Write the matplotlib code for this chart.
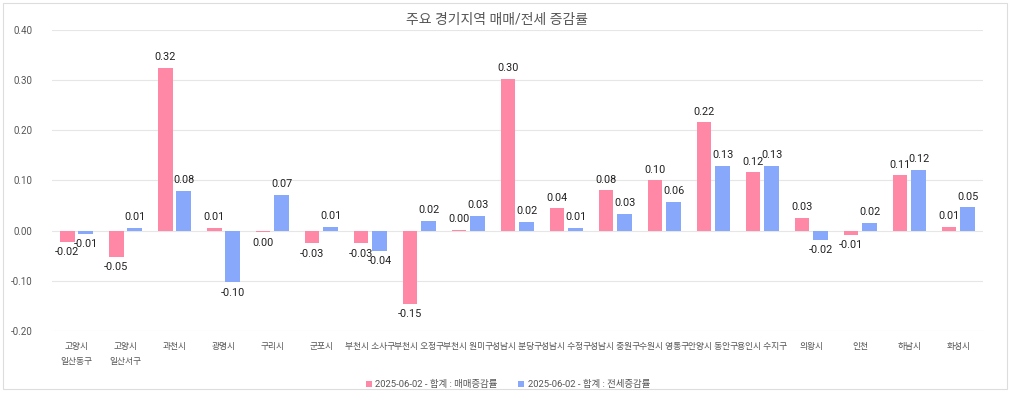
import matplotlib.pyplot as plt
import numpy as np
from matplotlib.patches import Rectangle

plt.rcParams['font.family'] = ['Roboto', 'Noto Sans CJK KR', 'DejaVu Sans']

regions = ["고양시\n일산동구", "고양시\n일산서구", "과천시", "광명시", "구리시", "군포시",
           "부천시 소사구", "부천시 오정구", "부천시 원미구", "성남시 분당구", "성남시 수정구",
           "성남시 중원구", "수원시 영통구", "안양시 동안구", "용인시 수지구", "의왕시",
           "인천", "하남시", "화성시"]
sale = [-0.022, -0.052, 0.324, 0.005, -0.003, -0.025, -0.025, -0.146, 0.002, 0.302,
        0.044, 0.080, 0.100, 0.216, 0.116, 0.026, -0.008, 0.110, 0.008]
jeonse = [-0.006, 0.005, 0.079, -0.103, 0.071, 0.007, -0.040, 0.020, 0.029, 0.018,
          0.005, 0.033, 0.057, 0.129, 0.129, -0.018, 0.016, 0.121, 0.046]
series_names = ["2025-06-02 - 합계 : 매매증감률", "2025-06-02 - 합계 : 전세증감률"]

pink = "#ff88a6"
blue = "#88a8fc"

fig = plt.figure(figsize=(10.1, 3.93), dpi=100)
fig.patches.append(Rectangle((0.003, 0.01), 0.994, 0.982, transform=fig.transFigure,
                             fill=False, edgecolor="#dddddd", linewidth=0.8))
ax = fig.add_axes([0.0515, 0.158, 0.9215, 0.766])

x = np.arange(len(regions))
w = 0.3
off = 0.19
b1 = ax.bar(x - off, sale, w, color=pink, label=series_names[0], zorder=3)
b2 = ax.bar(x + off, jeonse, w, color=blue, label=series_names[1], zorder=3)

for bars in (b1, b2):
    for r in bars:
        v = r.get_height()
        xc = r.get_x() + r.get_width() / 2
        txt = f"{v:.2f}"
        if txt == "-0.00":
            txt = "0.00"
        ax.annotate(txt, (xc, v), xytext=(0, 4 if v >= 0 else -4),
                    textcoords="offset points", ha="center",
                    va="bottom" if v >= 0 else "top", fontsize=7.8, color="#222222")

ax.set_xlim(-0.5, len(regions) - 0.5)
ax.set_ylim(-0.2, 0.4)
ax.set_yticks(np.arange(-0.2, 0.41, 0.1))
ax.set_yticklabels([f"{t:.2f}" for t in np.arange(-0.2, 0.41, 0.1)])
ax.set_xticks(x)
ax.set_xticklabels(regions, fontsize=6.3, color="#555555", linespacing=1.9)
ax.tick_params(axis="y", labelsize=7, colors="#555555", length=0, pad=14)
ax.tick_params(axis="x", length=0, pad=8)
ax.grid(axis="y", color="#e6e6e6", linewidth=0.8, zorder=0)
for s in ax.spines.values():
    s.set_visible(False)

fig.text(0.492, 0.948, "주요 경기지역 매매/전세 증감률", ha="center", va="center",
         fontsize=10, color="#555555")

ax.legend(loc="upper center", bbox_to_anchor=(0.49, -0.135), ncol=2, frameon=False,
          fontsize=6.8, handlelength=0.6, handleheight=0.6, handletextpad=0.4,
          columnspacing=2.2, labelcolor="#555555")

fig.savefig("out.png", dpi=100)
